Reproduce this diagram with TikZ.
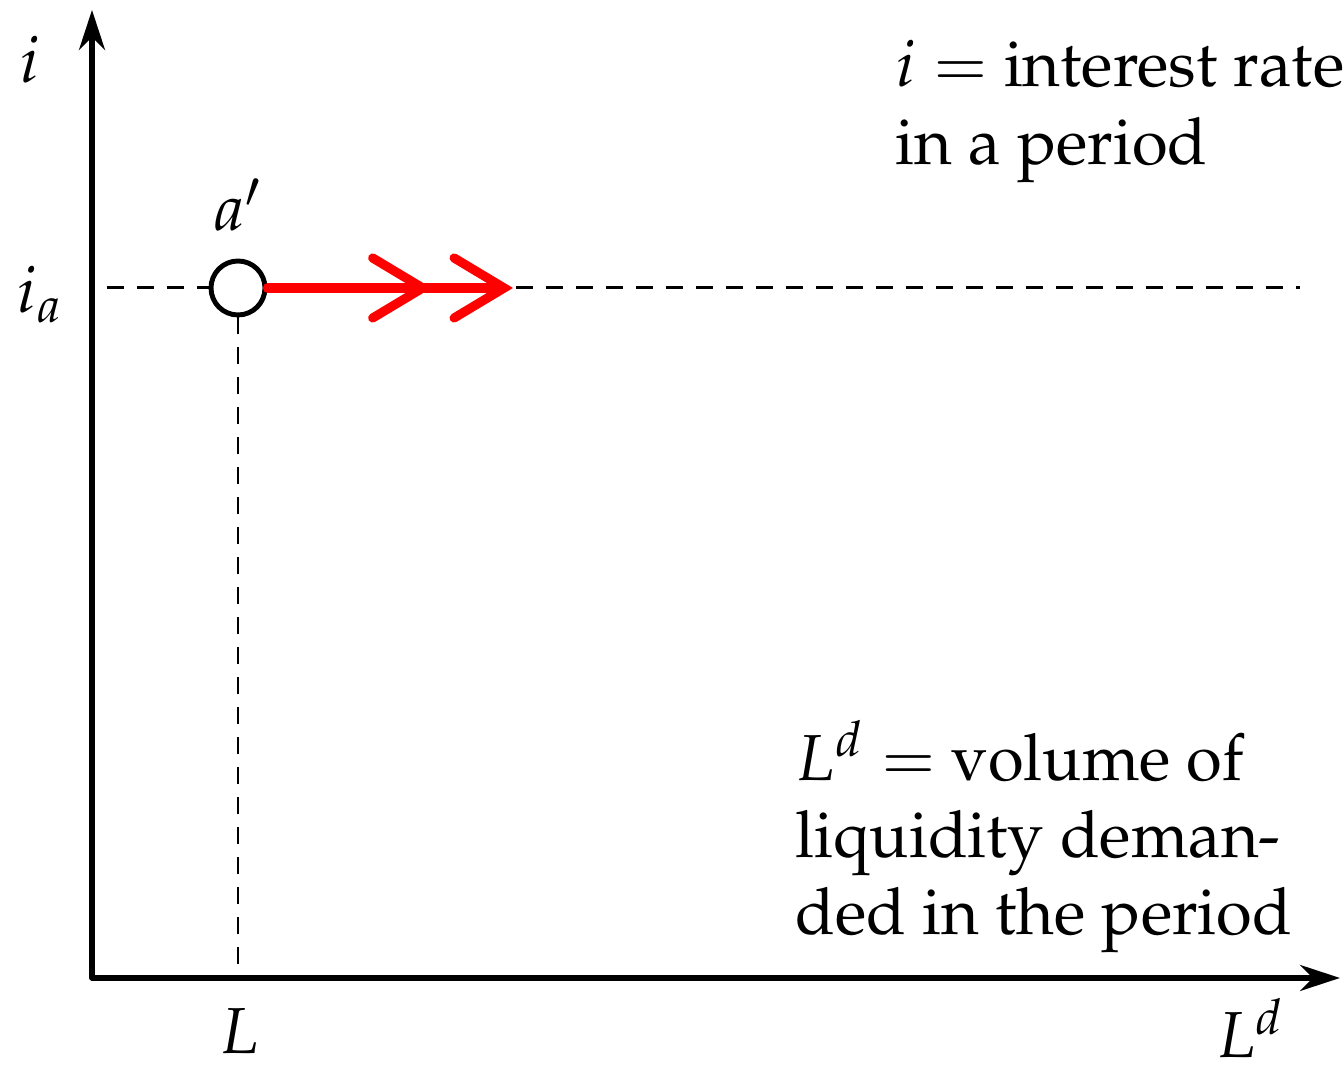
\documentclass[tikz,border=0pt]{standalone}
\usepackage[T1]{fontenc}
\usepackage{mathpazo}
\usetikzlibrary{arrows.meta}
\begin{document}
\begin{tikzpicture}[>={Stealth[length=4mm, width=2.6mm]}, font=\fontsize{18.5}{22}\selectfont, line join=round, line cap=round,
	axis/.style={line width=1.5pt},
	guide/.style={line width=0.85pt, dash pattern=on 1.7mm off 1.3mm, line cap=butt},
	dot/.style={circle, draw, line width=1.4pt, fill=white, minimum size=5.4mm, inner sep=0pt},
	moveright/.style={red, line width=2.6pt, -{Straight Barb[length=5mm, width=6mm, line cap=round, sep=1.8mm]Straight Barb[length=5mm, width=6mm, line cap=round]}}]
	\def\xmax{12.48} \def\ymax{9.68}
	\def\xL{1.46} \def\yia{6.9} % Punkt a'
	\useasboundingbox (-0.92,-0.88) rectangle (12.52,9.78);
	\coordinate (O) at (0,0);
	\coordinate (xend) at (\xmax,0);
	\coordinate (yend) at (0,\ymax);
	\coordinate (iastart) at (0.15,\yia);
	\coordinate (tip) at (4.21,\yia);
	\coordinate (gap) at (4.24,\yia);
	\coordinate (iaend) at (12.08,\yia);
	\node[dot] (a) at (\xL,\yia) {};
	\draw[guide] (iastart)--(a.west);
	\draw[guide] (a.south)--(a |- O);
	\draw[guide] (gap)--(iaend);
	\draw[moveright] (a.east)--(tip);
	\draw[axis,->] (O)--(xend);
	\draw[axis,->] (O)--(yend);
	\node (ylab) at (-0.62,9.18) {$i$};
	\node (ialab) at (-0.52,6.83) {$i_a$};
	\node (alab) at (\xL,7.73) {$a'$};
	\node[inner sep=1pt] (Llab) at (1.48,-0.53) {$L$};
	\node[inner sep=1pt] (xlab) at (11.58,-0.5) {$L^d$};
	\node[anchor=north west, align=left, inner sep=0pt] (itext) at (8.03,9.38) {$i =$ interest rate\\in a period};
	\node[anchor=north west, align=left, inner sep=0pt] (Ltext) at (7.03,2.58) {$L^d =$ volume of\\liquidity deman-\\ded in the period};
\end{tikzpicture}
\end{document}
